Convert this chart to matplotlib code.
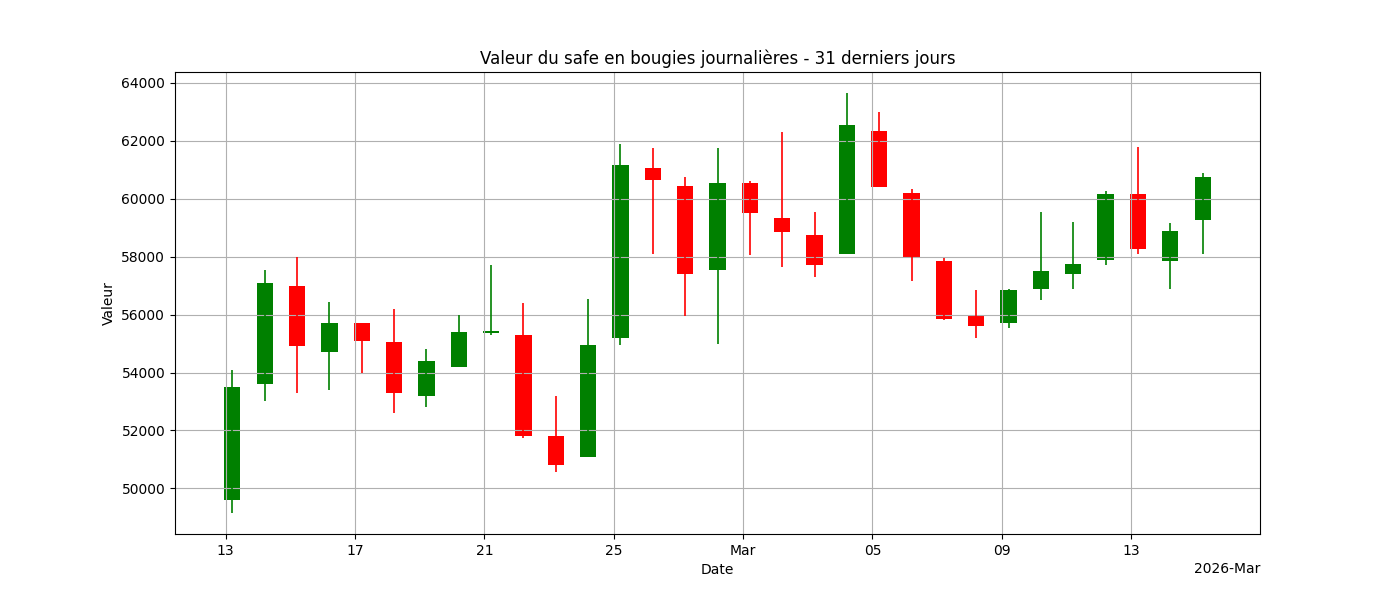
import datetime as dt

import matplotlib
matplotlib.use("Agg")
import matplotlib.dates as mdates
import matplotlib.pyplot as plt

start = dt.datetime(2026, 2, 13, 5)
opens = [49600, 53600, 57000, 54700, 55700, 55050, 53200, 54200, 55350, 55300, 51800,
         51100, 55200, 61050, 60450, 57550, 60550, 59350, 58750, 58100, 62350, 60200,
         57850, 55950, 55700, 56900, 57400, 57900, 60150, 57850, 59250]
highs = [54100, 57550, 58000, 56450, 55700, 56200, 54800, 56000, 57700, 56400, 53200,
         56550, 61900, 61750, 60750, 61750, 60600, 62300, 59550, 63650, 63000, 60350,
         57950, 56850, 56900, 59550, 59200, 60250, 61800, 59150, 60900]
lows = [49150, 53000, 53300, 53400, 54000, 52600, 52800, 54200, 55300, 51750, 50550,
        51100, 54950, 58100, 55950, 55000, 58050, 57650, 57300, 58100, 60400, 57150,
        55800, 55200, 55550, 56500, 56900, 57700, 58100, 56900, 58100]
closes = [53500, 57100, 54900, 55700, 55100, 53300, 54400, 55400, 55450, 51800, 50800,
          54950, 61150, 60650, 57400, 60550, 59500, 58850, 57700, 62550, 60400, 58000,
          55850, 55600, 56850, 57500, 57750, 60150, 58250, 58900, 60750]
dates = [start + dt.timedelta(days=i) for i in range(len(opens))]

fig, ax = plt.subplots(figsize=(14, 6), dpi=100)
for d, o, h, l, c in zip(dates, opens, highs, lows, closes):
    color = "green" if c >= o else "red"
    x = mdates.date2num(d)
    ax.vlines(x, l, h, color=color, linewidth=1.2)
    ax.bar(x, abs(c - o), bottom=min(o, c), width=0.5, color=color)

locator = mdates.AutoDateLocator()
ax.xaxis.set_major_locator(locator)
ax.xaxis.set_major_formatter(mdates.ConciseDateFormatter(locator))
ax.set_title("Valeur du safe en bougies journalières - 31 derniers jours")
ax.set_xlabel("Date")
ax.set_ylabel("Valeur")
ax.grid(True)
fig.savefig("out.png")
